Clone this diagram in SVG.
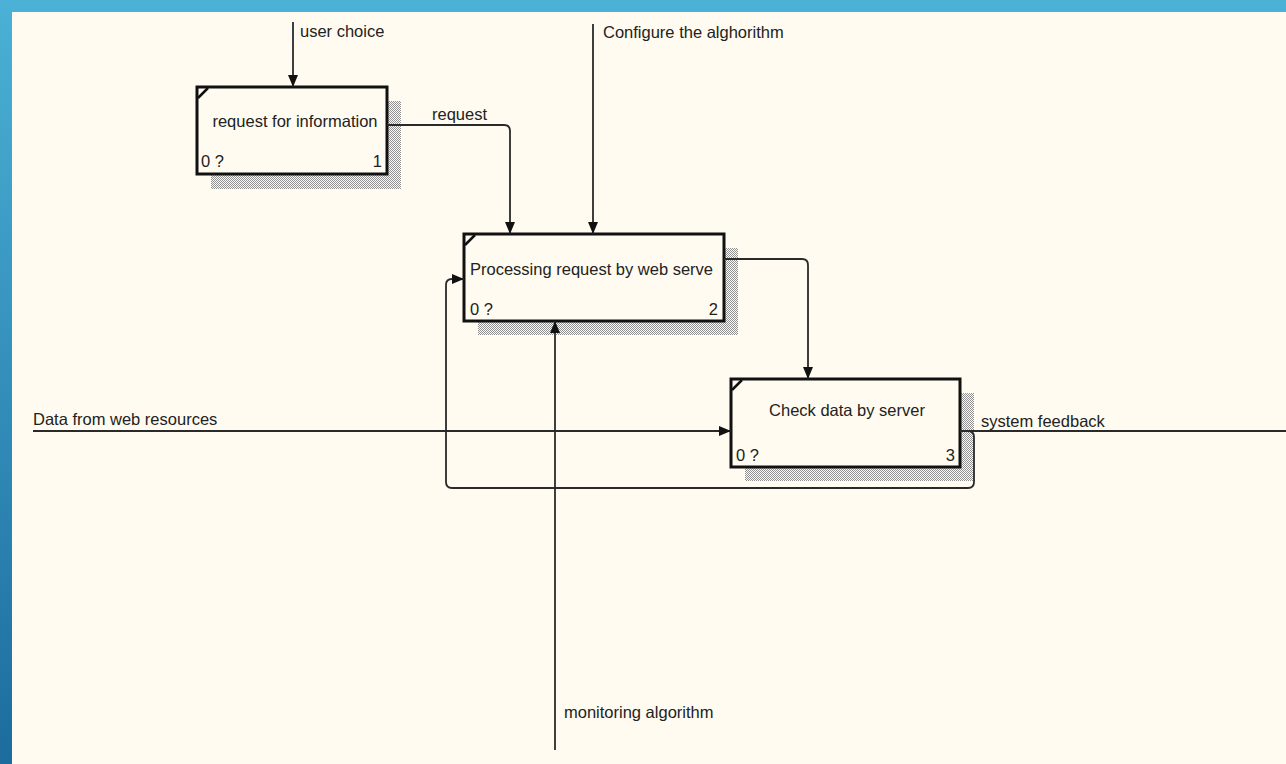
<svg xmlns="http://www.w3.org/2000/svg" width="1286" height="764" viewBox="0 0 1286 764">
<defs>
<linearGradient id="side" x1="0" y1="0" x2="0" y2="1">
<stop offset="0" stop-color="#4bb1d6"/>
<stop offset="1" stop-color="#1c6c9e"/>
</linearGradient>
<pattern id="hatch" width="2" height="2" patternUnits="userSpaceOnUse">
<rect x="0" y="0" width="1" height="1" fill="#909090"/>
<rect x="1" y="1" width="1" height="1" fill="#909090"/>
</pattern>
<marker id="arr" viewBox="0 0 12 10" refX="12" refY="5" markerWidth="12" markerHeight="10" markerUnits="userSpaceOnUse" orient="auto">
<path d="M0,0 L12,5 L0,10 z" fill="#111"/>
</marker>
</defs>
<style>
.t{font-family:"Liberation Sans",Arial,sans-serif;font-size:16.5px;fill:#222}
.box{fill:#fffbf0;stroke:#111;stroke-width:3}
.sh{fill:url(#hatch)}
.tick{stroke:#111;stroke-width:2.5;fill:none}
.c{fill:none;stroke:#2a2a2a;stroke-width:1.8}
.a{marker-end:url(#arr)}
</style>
<rect x="0" y="0" width="1286" height="764" fill="#fffbf0"/>
<rect x="0" y="0" width="1286" height="12" fill="#4bb1d6"/>
<rect x="0" y="0" width="12" height="764" fill="url(#side)"/>

<g id="node1">
<rect class="sh" x="211" y="101" width="190" height="88"/>
<rect class="box" x="197" y="87" width="190" height="87"/>
<path class="tick" d="M198,98 L208,88"/>
<text class="t" x="295" y="127" text-anchor="middle">request for information</text>
<text class="t" x="201" y="167">0 ?</text>
<text class="t" x="382" y="167" text-anchor="end">1</text>
</g>

<g id="node2">
<rect class="sh" x="478" y="248" width="260" height="87"/>
<rect class="box" x="464" y="234" width="260" height="87"/>
<path class="tick" d="M465,245 L475,235"/>
<text class="t" x="470" y="275">Processing request by web serve</text>
<text class="t" x="470" y="315">0 ?</text>
<text class="t" x="718" y="315" text-anchor="end">2</text>
</g>

<g id="node3">
<rect class="sh" x="745" y="393" width="229" height="88"/>
<rect class="box" x="731" y="379" width="229" height="88"/>
<path class="tick" d="M732,390 L742,380"/>
<text class="t" x="847" y="416" text-anchor="middle">Check data by server</text>
<text class="t" x="736" y="461">0 ?</text>
<text class="t" x="955" y="461" text-anchor="end">3</text>
</g>

<g id="connectors">
<path class="c a" d="M293,22 V87"/>
<path class="c a" d="M593,24 V234"/>
<path class="c a" d="M387,125 H504 Q510,125 510,131 V234"/>
<path class="c a" d="M724,259 H802 Q808,259 808,265 V379"/>
<path class="c a" d="M33,431 H731"/>
<path class="c" d="M960,431 H1286"/>
<path class="c a" d="M962,431 H968 Q974,431 974,437 V482 Q974,488 968,488 H452 Q446,488 446,482 V285 Q446,279 452,279 H464"/>
<path class="c a" d="M555,750 V321"/>
<text class="t" x="300" y="37">user choice</text>
<text class="t" x="603" y="38">Configure the alghorithm</text>
<text class="t" x="432" y="120">request</text>
<text class="t" x="33" y="425">Data from web resources</text>
<text class="t" x="981" y="427">system feedback</text>
<text class="t" x="564" y="718">monitoring algorithm</text>
</g>
</svg>
